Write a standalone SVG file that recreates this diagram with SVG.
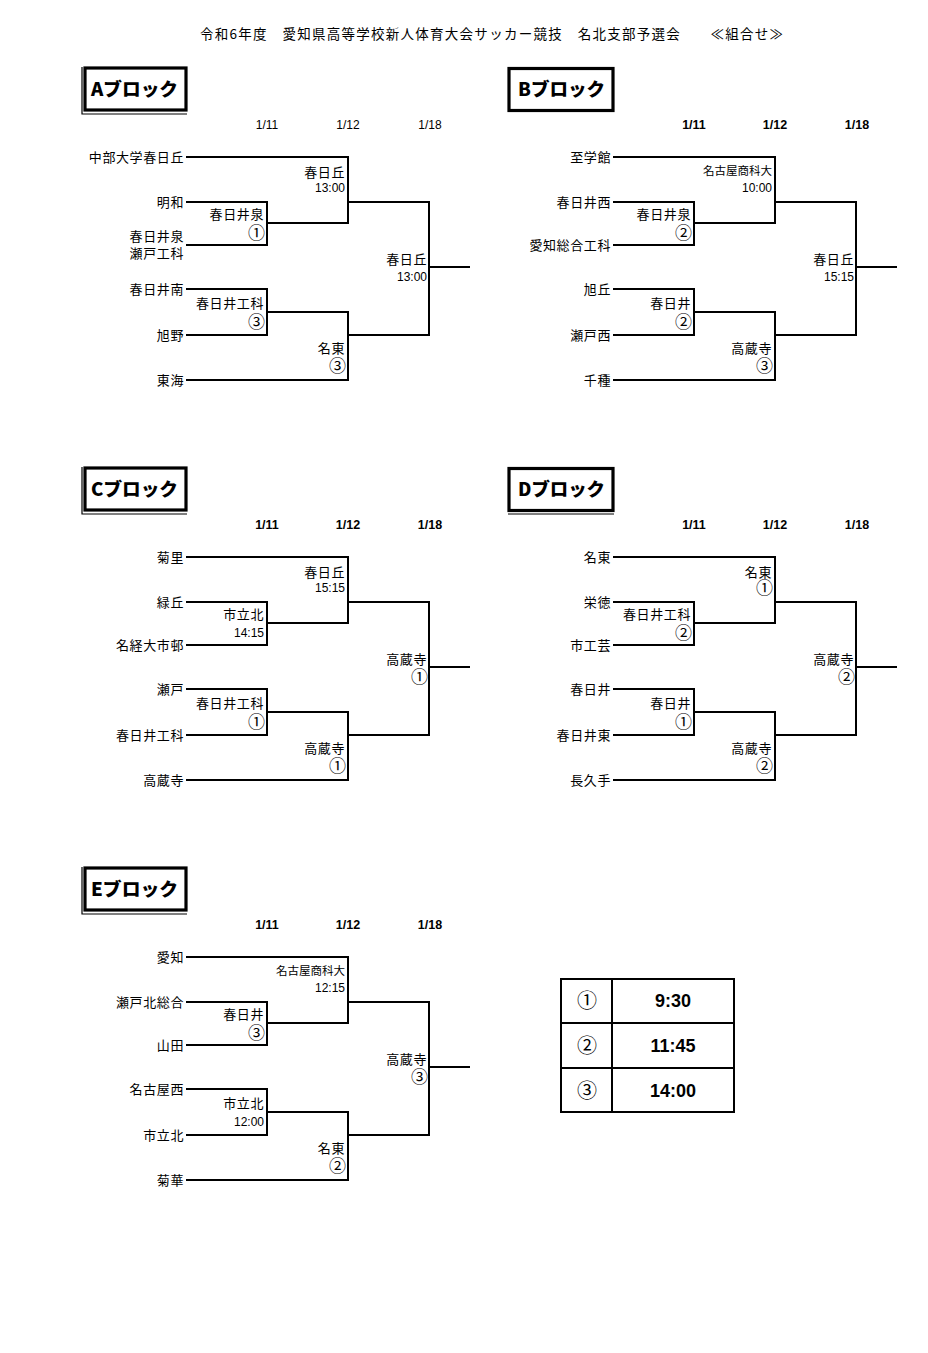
<svg xmlns="http://www.w3.org/2000/svg" width="928" height="1353" viewBox="0 0 928 1353">
<style>
text{font-family:"Noto Sans CJK JP","Noto Sans",sans-serif;fill:#000}
.tm{font-size:13px;text-anchor:end;letter-spacing:0.6px}
.w{font-size:13px;text-anchor:end;letter-spacing:0.6px}
.ws{font-size:11.5px;text-anchor:end}
.c{font-size:17px;text-anchor:end}
.h{font-family:"Liberation Sans",Arial,sans-serif;font-size:12px;text-anchor:end}
.dt{font-family:"Liberation Sans",Arial,sans-serif;font-size:12px;text-anchor:middle}
.db{font-family:"Liberation Sans",Arial,sans-serif;font-size:12.5px;font-weight:bold;text-anchor:middle}
.bt{font-size:18px;font-weight:900}
.ln{fill:none;stroke:#000;stroke-width:2}
.bx{fill:#fff;stroke:#000;stroke-width:3.2}
.th{fill:none;stroke:#000;stroke-width:1.2}
.tc{font-size:20px;text-anchor:middle}
.tt{font-family:"Liberation Sans",Arial,sans-serif;font-size:18px;font-weight:bold;text-anchor:middle}
</style>
<defs>
<g id="bracket" class="ln">
<path d="M186,157 H348 V223 H267"/>
<path d="M186,202 H267 V245 H186"/>
<path d="M348,202 H429 V335 H348"/>
<path d="M186,289 H267 V335 H186"/>
<path d="M267,312 H348 V380 H186"/>
<path d="M429,267 H470"/>
</g>
</defs>

<text id="title" x="200" y="39" font-size="13.5" textLength="583" lengthAdjust="spacing">令和6年度　愛知県高等学校新人体育大会サッカー競技　名北支部予選会　　≪組合せ≫</text>

<!-- A block -->
<g id="blockA">
<g id="A-title"><rect class="bx" x="85" y="68" width="101" height="42"/><path class="th" d="M82,67 V114 H187"/><text class="bt" x="91" y="96" textLength="87" lengthAdjust="spacingAndGlyphs">Aブロック</text></g>
<g id="A-dates"><text class="dt" x="267" y="129">1/11</text><text class="dt" x="348" y="129">1/12</text><text class="dt" x="430" y="129">1/18</text></g>
<g id="A-connectors"><use href="#bracket"/></g>
<g id="A-t1"><text class="tm" x="184" y="162">中部大学春日丘</text></g>
<g id="A-t2"><text class="tm" x="184" y="207">明和</text></g>
<g id="A-t3"><text class="tm" x="184" y="241" font-size="12.5">春日井泉</text><text class="tm" x="184" y="258" font-size="12.5">瀬戸工科</text></g>
<g id="A-t4"><text class="tm" x="184" y="294">春日井南</text></g>
<g id="A-t5"><text class="tm" x="184" y="340">旭野</text></g>
<g id="A-t6"><text class="tm" x="184" y="385">東海</text></g>
<g id="A-w1"><text class="w" x="264" y="219">春日井泉</text><text class="c" x="265" y="239">①</text></g>
<g id="A-w2"><text class="w" x="345" y="177">春日丘</text><text class="h" x="345" y="192">13:00</text></g>
<g id="A-w3"><text class="w" x="264" y="308">春日井工科</text><text class="c" x="265" y="328">③</text></g>
<g id="A-w4"><text class="w" x="345" y="353">名東</text><text class="c" x="346" y="372">③</text></g>
<g id="A-w5"><text class="w" x="427" y="264">春日丘</text><text class="h" x="427" y="281">13:00</text></g>
</g>

<!-- B block -->
<g id="blockB" transform="translate(427,0)">
<g id="B-title"><rect class="bx" x="82" y="68.5" width="104" height="42"/><text class="bt" x="91" y="96" textLength="87" lengthAdjust="spacingAndGlyphs">Bブロック</text></g>
<g id="B-dates"><text class="db" x="267" y="129">1/11</text><text class="db" x="348" y="129">1/12</text><text class="db" x="430" y="129">1/18</text></g>
<g id="B-connectors"><use href="#bracket"/></g>
<g id="B-t1"><text class="tm" x="184" y="162">至学館</text></g>
<g id="B-t2"><text class="tm" x="184" y="207">春日井西</text></g>
<g id="B-t3"><text class="tm" x="184" y="250">愛知総合工科</text></g>
<g id="B-t4"><text class="tm" x="184" y="294">旭丘</text></g>
<g id="B-t5"><text class="tm" x="184" y="340">瀬戸西</text></g>
<g id="B-t6"><text class="tm" x="184" y="385">千種</text></g>
<g id="B-w1"><text class="w" x="264" y="219">春日井泉</text><text class="c" x="265" y="239">②</text></g>
<g id="B-w2"><text class="ws" x="345" y="175">名古屋商科大</text><text class="h" x="345" y="192">10:00</text></g>
<g id="B-w3"><text class="w" x="264" y="308">春日井</text><text class="c" x="265" y="328">②</text></g>
<g id="B-w4"><text class="w" x="345" y="353">高蔵寺</text><text class="c" x="346" y="372">③</text></g>
<g id="B-w5"><text class="w" x="427" y="264">春日丘</text><text class="h" x="427" y="281">15:15</text></g>
</g>

<!-- C block -->
<g id="blockC" transform="translate(0,400)">
<g id="C-title"><rect class="bx" x="85" y="68" width="101" height="42"/><path class="th" d="M82,67 V114 H187"/><text class="bt" x="91" y="96" textLength="87" lengthAdjust="spacingAndGlyphs">Cブロック</text></g>
<g id="C-dates"><text class="db" x="267" y="129">1/11</text><text class="db" x="348" y="129">1/12</text><text class="db" x="430" y="129">1/18</text></g>
<g id="C-connectors"><use href="#bracket"/></g>
<g id="C-t1"><text class="tm" x="184" y="162">菊里</text></g>
<g id="C-t2"><text class="tm" x="184" y="207">緑丘</text></g>
<g id="C-t3"><text class="tm" x="184" y="250">名経大市邨</text></g>
<g id="C-t4"><text class="tm" x="184" y="294">瀬戸</text></g>
<g id="C-t5"><text class="tm" x="184" y="340">春日井工科</text></g>
<g id="C-t6"><text class="tm" x="184" y="385">高蔵寺</text></g>
<g id="C-w1"><text class="w" x="264" y="219">市立北</text><text class="h" x="264" y="237">14:15</text></g>
<g id="C-w2"><text class="w" x="345" y="177">春日丘</text><text class="h" x="345" y="192">15:15</text></g>
<g id="C-w3"><text class="w" x="264" y="308">春日井工科</text><text class="c" x="265" y="328">①</text></g>
<g id="C-w4"><text class="w" x="345" y="353">高蔵寺</text><text class="c" x="346" y="372">①</text></g>
<g id="C-w5"><text class="w" x="427" y="264">高蔵寺</text><text class="c" x="428" y="283">①</text></g>
</g>

<!-- D block -->
<g id="blockD" transform="translate(427,400)">
<g id="D-title"><rect class="bx" x="82" y="68.5" width="104" height="42"/><path class="th" d="M81,114 H187"/><text class="bt" x="91" y="96" textLength="87" lengthAdjust="spacingAndGlyphs">Dブロック</text></g>
<g id="D-dates"><text class="db" x="267" y="129">1/11</text><text class="db" x="348" y="129">1/12</text><text class="db" x="430" y="129">1/18</text></g>
<g id="D-connectors"><use href="#bracket"/></g>
<g id="D-t1"><text class="tm" x="184" y="162">名東</text></g>
<g id="D-t2"><text class="tm" x="184" y="207">栄徳</text></g>
<g id="D-t3"><text class="tm" x="184" y="250">市工芸</text></g>
<g id="D-t4"><text class="tm" x="184" y="294">春日井</text></g>
<g id="D-t5"><text class="tm" x="184" y="340">春日井東</text></g>
<g id="D-t6"><text class="tm" x="184" y="385">長久手</text></g>
<g id="D-w1"><text class="w" x="264" y="219">春日井工科</text><text class="c" x="265" y="239">②</text></g>
<g id="D-w2"><text class="w" x="345" y="177">名東</text><text class="c" x="346" y="194">①</text></g>
<g id="D-w3"><text class="w" x="264" y="308">春日井</text><text class="c" x="265" y="328">①</text></g>
<g id="D-w4"><text class="w" x="345" y="353">高蔵寺</text><text class="c" x="346" y="372">②</text></g>
<g id="D-w5"><text class="w" x="427" y="264">高蔵寺</text><text class="c" x="428" y="283">②</text></g>
</g>

<!-- E block -->
<g id="blockE" transform="translate(0,800)">
<g id="E-title"><rect class="bx" x="85" y="68" width="101" height="42"/><path class="th" d="M82,67 V114 H187"/><text class="bt" x="91" y="96" textLength="87" lengthAdjust="spacingAndGlyphs">Eブロック</text></g>
<g id="E-dates"><text class="db" x="267" y="129">1/11</text><text class="db" x="348" y="129">1/12</text><text class="db" x="430" y="129">1/18</text></g>
<g id="E-connectors"><use href="#bracket"/></g>
<g id="E-t1"><text class="tm" x="184" y="162">愛知</text></g>
<g id="E-t2"><text class="tm" x="184" y="207">瀬戸北総合</text></g>
<g id="E-t3"><text class="tm" x="184" y="250">山田</text></g>
<g id="E-t4"><text class="tm" x="184" y="294">名古屋西</text></g>
<g id="E-t5"><text class="tm" x="184" y="340">市立北</text></g>
<g id="E-t6"><text class="tm" x="184" y="385">菊華</text></g>
<g id="E-w1"><text class="w" x="264" y="219">春日井</text><text class="c" x="265" y="239">③</text></g>
<g id="E-w2"><text class="ws" x="345" y="175">名古屋商科大</text><text class="h" x="345" y="192">12:15</text></g>
<g id="E-w3"><text class="w" x="264" y="308">市立北</text><text class="h" x="264" y="326">12:00</text></g>
<g id="E-w4"><text class="w" x="345" y="353">名東</text><text class="c" x="346" y="372">②</text></g>
<g id="E-w5"><text class="w" x="427" y="264">高蔵寺</text><text class="c" x="428" y="283">③</text></g>
</g>

<!-- time table -->
<g id="timetable">
<rect x="561" y="979" width="173" height="133" fill="none" stroke="#000" stroke-width="2"/>
<path d="M612,979 V1112 M561,1023 H734 M561,1068 H734" fill="none" stroke="#000" stroke-width="2"/>
<text class="tc" x="587" y="1008">①</text><text class="tt" x="673" y="1007">9:30</text>
<text class="tc" x="587" y="1053">②</text><text class="tt" x="673" y="1052">11:45</text>
<text class="tc" x="587" y="1098">③</text><text class="tt" x="673" y="1097">14:00</text>
</g>
</svg>
